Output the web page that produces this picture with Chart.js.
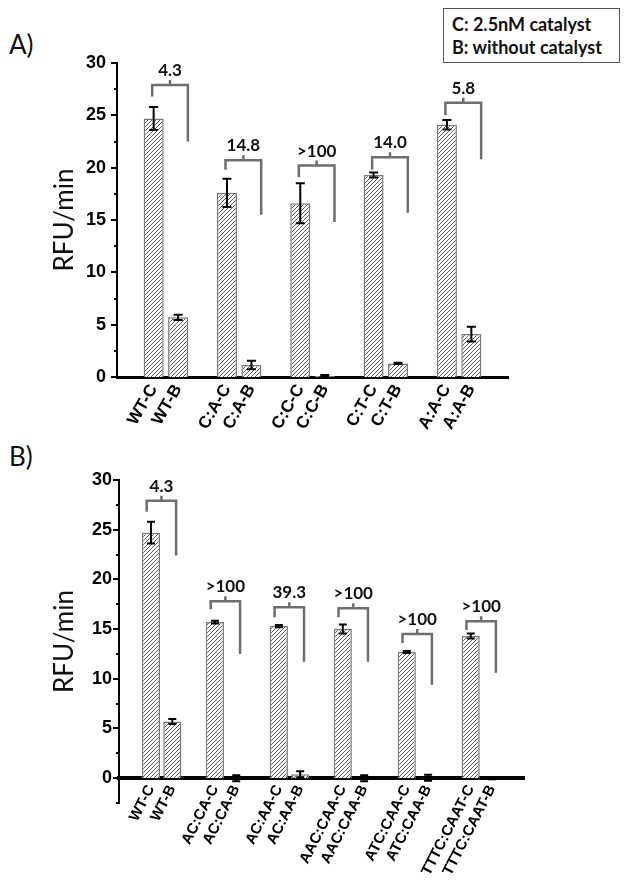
<!DOCTYPE html>
<html>
<head>
<meta charset="utf-8">
<script src="https://cdn.jsdelivr.net/npm/chart.js@4.4.0/dist/chart.umd.min.js"></script>
<style>
  body { margin:0; background:#fff; width:629px; height:881px; position:relative; overflow:hidden; font-family: Lato, sans-serif; color:#111; }
  canvas { position:absolute; left:0; }
  #chartA { top:0; }
  #chartB { top:440px; }
  .tag { position:absolute; left:9px; font-size:26px; line-height:30px; }
  #key { position:absolute; left:443px; top:8px; width:177px; height:55px; border:1px solid #555; box-sizing:border-box;
         font-weight:bold; font-size:18px; line-height:23px; padding:4px 0 0 8px; white-space:nowrap; }
</style>
</head>
<body>
<div class="tag" style="top:29px">A)</div>
<div class="tag" style="top:441px">B)</div>
<div id="key">C: 2.5nM catalyst<br>B: without catalyst</div>
<canvas id="chartA" width="629" height="450"></canvas>
<canvas id="chartB" width="629" height="441"></canvas>
<script>
// panel A
const labelsA = ['WT-C', 'WT-B', 'C:A-C', 'C:A-B', 'C:C-C', 'C:C-B', 'C:T-C', 'C:T-B', 'A:A-C', 'A:A-B'];
const valuesA = [24.7, 5.7, 17.6, 1.15, 16.6, 0.1, 19.3, 1.3, 24.1, 4.1];
const errorsA = [1.1, 0.25, 1.35, 0.4, 1.9, 0.08, 0.25, 0.05, 0.45, 0.7];
const foldA = ['4.3', '14.8', '>100', '14.0', '5.8'];
const bracketTopA = [27.9, 20.7, 20.2, 21.0, 26.2];
const bracketLeftA = [26.8, 19.8, 19.1, 19.8, 25.0];
const bracketRightA = [22.5, 15.5, 14.8, 15.7, 20.8];

// panel B
const labelsB = ['WT-C', 'WT-B', 'AC:CA-C', 'AC:CA-B', 'AC:AA-C', 'AC:AA-B', 'AAC:CAA-C', 'AAC:CAA-B',
                 'ATC:CAA-C', 'ATC:CAA-B', 'TTTC:CAAT-C', 'TTTC:CAAT-B'];
const valuesB = [24.7, 5.7, 15.7, 0.0, 15.3, 0.4, 15.0, 0.0, 12.7, 0.05, 14.3, 0.0];
const errorsB = [1.1, 0.25, 0.15, 0.3, 0.12, 0.3, 0.45, 0.3, 0.1, 0.3, 0.25, 0.1];
const foldB = ['4.3', '>100', '39.3', '>100', '>100', '>100'];
const bracketTopB = [27.9, 17.8, 17.2, 17.1, 14.5, 15.8];
const bracketLeftB = [26.8, 17.0, 16.2, 16.2, 13.6, 14.9];
const bracketRightB = [22.4, 12.5, 11.7, 11.7, 9.4, 10.6];

// each pair gets an empty slot in front of it, plus one at the end
function pad(arr, blank) {
    const out = [];
    for (let i = 0; i < arr.length; i += 2) out.push(blank, arr[i], arr[i + 1]);
    out.push(blank);
    return out;
}

function hatch() {
    const c = document.createElement('canvas');
    c.width = 4; c.height = 4;
    const g = c.getContext('2d');
    g.fillStyle = '#fff';
    g.fillRect(0, 0, 4, 4);
    g.strokeStyle = '#4a4a4a';
    g.lineWidth = 0.9;
    g.beginPath();
    g.moveTo(0, 4); g.lineTo(4, 0);
    g.moveTo(-1, 1); g.lineTo(1, -1);
    g.moveTo(3, 5); g.lineTo(5, 3);
    g.stroke();
    return g.createPattern(c, 'repeat');
}

const extras = {
    id: 'extras',
    afterDatasetsDraw(chart, args, o) {
        const ctx = chart.ctx, xs = chart.scales.x, ys = chart.scales.y;
        ctx.save();
        // y tick marks, long on labelled values
        ctx.strokeStyle = '#000';
        ctx.lineWidth = 2;
        ys.ticks.forEach(t => {
            const y = Math.round(ys.getPixelForValue(t.value));
            const len = t.value % 5 === 0 && t.value >= 0 ? 6 : 3;
            ctx.beginPath();
            ctx.moveTo(chart.chartArea.left, y);
            ctx.lineTo(chart.chartArea.left - len, y);
            ctx.stroke();
        });
        // error bars
        const ds = chart.data.datasets[0];
        chart.getDatasetMeta(0).data.forEach((bar, i) => {
            const v = ds.data[i];
            if (v == null) return;
            const e = ds.errors[i];
            const y1 = ys.getPixelForValue(v + e), y2 = ys.getPixelForValue(v - e);
            ctx.beginPath();
            ctx.moveTo(bar.x, y1); ctx.lineTo(bar.x, y2);
            ctx.moveTo(bar.x - o.cap, y1); ctx.lineTo(bar.x + o.cap, y1);
            ctx.moveTo(bar.x - o.cap, y2); ctx.lineTo(bar.x + o.cap, y2);
            ctx.stroke();
        });
        // fold-change brackets
        ctx.strokeStyle = '#6e6e6e';
        ctx.lineWidth = 2.5;
        ctx.fillStyle = '#111';
        ctx.font = 'bold 17px Lato';
        ctx.textAlign = 'center';
        o.folds.forEach((txt, k) => {
            const xl = xs.getPixelForValue(3 * k + 1 + o.offL);
            const xr = xs.getPixelForValue(3 * k + 2 + o.offR);
            const yt = ys.getPixelForValue(o.tops[k]);
            const xm = (xl + xr) / 2;
            ctx.beginPath();
            ctx.moveTo(xl, ys.getPixelForValue(o.lefts[k]));
            ctx.lineTo(xl, yt);
            ctx.lineTo(xr, yt);
            ctx.lineTo(xr, ys.getPixelForValue(o.rights[k]));
            ctx.moveTo(xm, yt);
            ctx.lineTo(xm, yt - 5);
            ctx.stroke();
            ctx.fillText(txt, xm, yt - 9);
        });
        ctx.restore();
    }
};

function makeChart(id, cfg) {
    return new Chart(document.getElementById(id), {
        type: 'bar',
        data: {
            labels: pad(cfg.labels, ''),
            datasets: [{
                data: pad(cfg.values, null),
                errors: pad(cfg.errors, null),
                backgroundColor: hatch(),
                borderColor: '#7a7a7a',
                borderWidth: 1.5,
                barPercentage: cfg.barPct,
                categoryPercentage: 1
            }]
        },
        options: {
            responsive: false,
            animation: false,
            layout: { padding: cfg.padding },
            plugins: {
                legend: { display: false },
                tooltip: { enabled: false },
                extras: cfg.extras
            },
            scales: {
                x: {
                    position: cfg.xPos,
                    grid: { display: false, drawTicks: false },
                    border: { color: '#000', width: cfg.xBorder },
                    ticks: {
                        autoSkip: false, minRotation: cfg.rot, maxRotation: cfg.rot, padding: 4, color: '#000',
                        font: { family: 'Liberation Sans', weight: 'bold', size: cfg.xFont }
                    },
                    afterFit: s => { if (cfg.xHeight) s.height = cfg.xHeight; }
                },
                y: {
                    min: cfg.yMin, max: 30,
                    grid: { display: false, drawTicks: false },
                    border: { color: '#000', width: 2 },
                    ticks: {
                        stepSize: 2.5, padding: cfg.tickPad, color: '#000',
                        font: { family: 'Liberation Sans', weight: 'bold', size: 18 },
                        callback: v => (v % 5 === 0 && v >= 0) ? v : ''
                    },
                    title: {
                        display: true, text: 'RFU/min', color: '#111',
                        font: { family: 'Lato', size: 26 }, padding: { top: 49, bottom: 0 }
                    },
                    afterFit: s => { s.width = cfg.yWidth; }
                }
            }
        },
        plugins: [extras]
    });
}

makeChart('chartA', {
    labels: labelsA, values: valuesA, errors: errorsA, barPct: 0.82,
    padding: { top: 63, right: 121, left: 0, bottom: 0 },
    xPos: 'bottom', xBorder: 3, xHeight: 73, rot: 60, xFont: 17, yMin: 0, yWidth: 117, tickPad: 11,
    extras: { cap: 4.5, folds: foldA, tops: bracketTopA, lefts: bracketLeftA, rights: bracketRightA, offL: -0.06, offR: 0.4 }
});

makeChart('chartB', {
    labels: labelsB, values: valuesB, errors: errorsB, barPct: 0.85,
    padding: { top: 40, right: 105, left: 0, bottom: 78 },
    xPos: { y: 0 }, xBorder: 4, xHeight: 0, rot: 63, xFont: 15, yMin: -2.5, yWidth: 119, tickPad: 7,
    extras: { cap: 4, folds: foldB, tops: bracketTopB, lefts: bracketLeftB, rights: bracketRightB, offL: -0.2, offR: 0.18 }
});
</script>
</body>
</html>
